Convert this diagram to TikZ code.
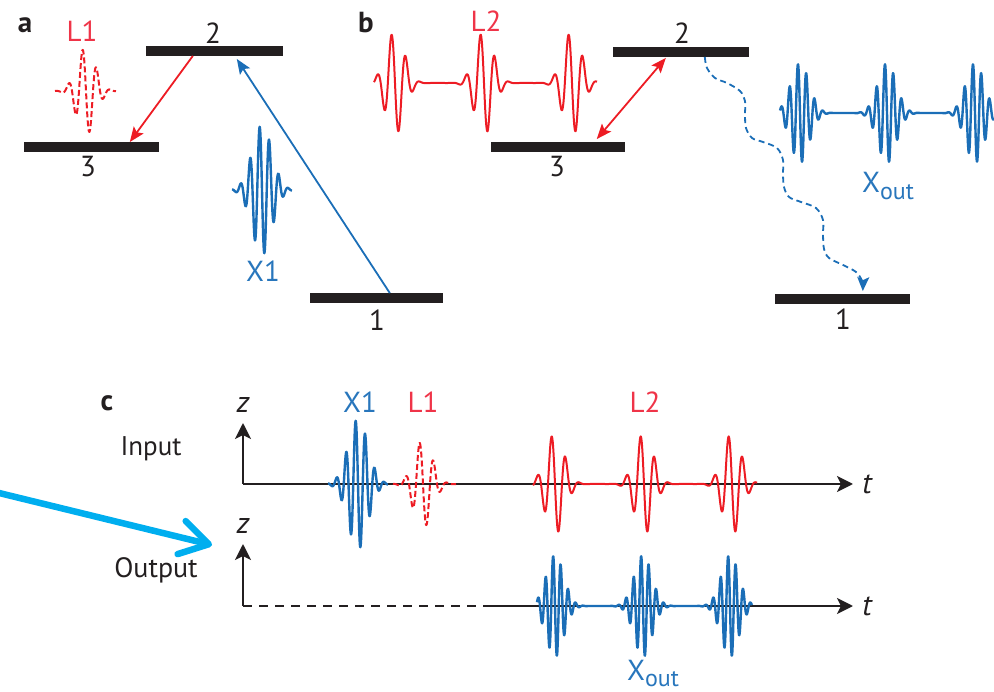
\documentclass[tikz,border=0pt]{standalone}
\usepackage{fontspec}
\setmainfont{PT Sans}
\usetikzlibrary{arrows.meta,calc}

\definecolor{ink}{RGB}{35,31,32}
\definecolor{pulseblue}{RGB}{27,110,183}
\definecolor{pulsered}{RGB}{237,28,36}
\definecolor{labelblue}{RGB}{40,118,188}
\definecolor{labelred}{RGB}{239,52,72}
\definecolor{pointer}{RGB}{0,174,239}

\begin{document}
\begin{tikzpicture}[x=1pt,y=-1pt,
  declare function={
    env(\u,\w)=exp(-min((\u/\w)*(\u/\w),30));
    wp(\u,\w,\p)=env(\u,\w)*sin(\u*(360/\p));
  },
  level/.style={fill=ink, draw=none, inner sep=0pt, minimum height=9.5pt},
  txt/.style={font=\fontsize{29}{29}\selectfont, text=ink, inner sep=0pt},
  panel/.style={font=\fontsize{29}{29}\selectfont\bfseries, text=ink, inner sep=0pt},
  bluetxt/.style={txt, text=labelblue},
  redtxt/.style={txt, text=labelred},
  vartxt/.style={font=\fontsize{30}{30}\selectfont\itshape, text=ink, inner sep=0pt},
  bluewave/.style={draw=pulseblue, line width=2.4pt, line join=round},
  redwave/.style={draw=pulsered, line width=2pt, line join=round},
  reddash/.style={redwave, dash pattern=on 6pt off 3pt},
  transition/.style={line width=1.8pt, -{Stealth[length=15pt,width=12pt,inset=3pt]}},
  axis/.style={draw=ink, line width=2.4pt},
  axistip/.style={-{Stealth[length=16pt,width=16pt,inset=4pt]}},
  decay/.style={draw=pulseblue, line width=1.8pt, dash pattern=on 6pt off 4pt,
    -{Stealth[length=14pt,width=12pt,inset=3pt]}},
]
\useasboundingbox (0,0) rectangle (994,692);

% ---------------- panel a ----------------
\node[panel] (pa) at (25,25) {a};
\node[level, minimum width=137pt] (a2) at (214.5,51) {};
\node[level, minimum width=135pt] (a3) at (91.5,147) {};
\node[level, minimum width=133pt] (a1) at (376.5,298) {};
\node[txt] (a2n) at (213,33) {2};
\node[txt] (a3n) at (88,167) {3};
\node[txt] (a1n) at (377,320) {1};

\draw[transition, draw=pulsered, -{Stealth[length=15pt,width=12pt,inset=3pt,fill=pulsered]}]
  ($(a2.south west)+(47,0)$) -- ($(a3.north west)+(106,0)$);
\draw[transition, draw=pulseblue]
  ($(a1.north west)+(80,0)$) -- ($(a2.south west)+(91,3)$);

% control pulses L1 and probe X1
\draw[reddash] plot[domain=55:116, samples=160] (\x, {91+44*wp(\x-86,13,14)});
\node[redtxt] (aL1) at (82,31) {L1};
\draw[bluewave] plot[domain=232:292, samples=220] (\x, {190+65*wp(\x-262,14,9.5)});
\node[bluetxt] (aX1) at (263,271) {X1};

% ---------------- panel b ----------------
\node[panel] (pb) at (366,23) {b};
\node[level, minimum width=136pt] (b2) at (681,52) {};
\node[level, minimum width=134pt] (b3) at (558,147) {};
\node[level, minimum width=135pt] (b1) at (842.5,299) {};
\node[txt] (b2n) at (682,33) {2};
\node[txt] (b3n) at (557,167) {3};
\node[txt] (b1n) at (843,319) {1};

\draw[transition, draw=pulsered,
  {Stealth[length=15pt,width=12pt,inset=3pt,fill=pulsered]}-{Stealth[length=15pt,width=12pt,inset=3pt,fill=pulsered]}]
  ($(b3.north west)+(106,-3)$) -- ($(b2.south west)+(53,1)$);

% spontaneous decay 2 -> 1
\coordinate (dstart) at ($(b2.south west)+(92,0)$);
\coordinate (dend) at ($(b1.north west)+(88,-3)$);
\draw[decay] plot[smooth, tension=0.55] coordinates {
  (dstart) (707,68) (715,78) (727,83) (740,91) (745,101) (745,115) (746,128)
  (752,138) (763,142) (777,148) (783,160) (783,174) (784,187) (789,197)
  (801,202) (816,208) (823,220) (823,234) (824,249) (829,258) (843,265)
  (856,272) (862,281) (dend)};

% coupling train L2 and emitted train X_out
\draw[redwave] plot[domain=374:597, samples=500]
  (\x, {83+52*(wp(\x-395,13,14.3)+wp(\x-484,13,14.3)+wp(\x-572,13,14.3))});
\node[redtxt] (bL2) at (486,21) {L2};
\draw[bluewave] plot[domain=780:994, samples=700]
  (\x, {113+50*(wp(\x-800,13,8.3)+wp(\x-887,13,8.3)+wp(\x-975,13,8.3))});
\node[bluetxt, anchor=base west] (bXo) at (862,193) {X\raisebox{-7pt}{\fontsize{24}{24}\selectfont out}};

% ---------------- panel c ----------------
\node[panel] (pc) at (107,403) {c};
\node[txt, font=\fontsize{27}{27}\selectfont] (inp) at (151,449) {Input};
\node[txt, font=\fontsize{28}{28}\selectfont] (outp) at (156,570) {Output};

% input axes
\coordinate (o1) at (243,484);
\coordinate (z1) at (243,423);
\coordinate (t1) at (853,484);
\draw[axis, axistip] (o1) -- (z1);
\draw[axis, axistip] (o1) -- (t1);
\node[vartxt] (z1n) at (243,405) {z};
\node[vartxt] (t1n) at (867,484) {t};

% output axes
\coordinate (o2) at (243,606);
\coordinate (z2) at (243,544);
\coordinate (m2) at (489,606);
\coordinate (t2) at (853,606);
\draw[axis, axistip] (o2) -- (z2);
\draw[axis, dash pattern=on 9pt off 7pt] (o2) -- (m2);
\draw[axis, axistip] (m2) -- (t2);
\node[vartxt] (z2n) at (243,526) {z};
\node[vartxt] (t2n) at (867,606) {t};

% input pulses
\draw[bluewave] plot[domain=328:388, samples=220] (\x, {484+65*wp(\x-358,14,9.5)});
\node[bluetxt] (cX1) at (360,402) {X1};
\draw[reddash] plot[domain=393:456, samples=160] (\x, {484+44*wp(\x-423,13,14)});
\node[redtxt] (cL1) at (423,402) {L1};
\draw[redwave] plot[domain=533:757, samples=500]
  (\x, {484+51*(wp(\x-555,13,14)+wp(\x-644,13,14)+wp(\x-732,13,14))});
\node[redtxt] (cL2) at (645,402) {L2};

% output pulses
\draw[bluewave] plot[domain=537:752, samples=700]
  (\x, {606+51*(wp(\x-555,12.5,7.5)+wp(\x-643,12.5,7.5)+wp(\x-730,12.5,7.5))});
\node[bluetxt, anchor=base west] (cXo) at (627,680) {X\raisebox{-6pt}{\fontsize{24}{24}\selectfont out}};

% pointer
\coordinate (ptail) at (-5,492);
\coordinate (phead) at (212,545);
\draw[draw=pointer, line width=6.5pt, line cap=round,
  -{Straight Barb[length=28pt,width=34pt,round]}] (ptail) -- (phead);
\end{tikzpicture}
\end{document}
